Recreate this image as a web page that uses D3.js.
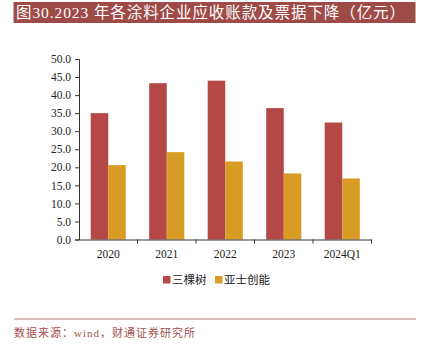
<!DOCTYPE html>
<html>
<head>
<meta charset="utf-8">
<script src="https://cdn.jsdelivr.net/npm/d3@7"></script>
<style>
  body { margin: 0; background: #fff; }
  svg { display: block; }
</style>
</head>
<body>
<script>
// Données
const categories = ['2020', '2021', '2022', '2023', '2024Q1'];
const series = ['三棵树', '亚士创能'];
const sankeshu = [35.0, 43.3, 44.0, 36.4, 32.4];
const yashi = [20.6, 24.2, 21.6, 18.3, 16.9];
const yTicks = [0, 5, 10, 15, 20, 25, 30, 35, 40, 45, 50];
const colors = ['#B44846', '#D89C24'];

const W = 424, H = 351;
const svg = d3.select('body').append('svg')
    .attr('width', W)
    .attr('height', H);

// Titre
svg.append('rect')
    .attr('x', 13.5).attr('y', 2)
    .attr('width', 402).attr('height', 21)
    .attr('fill', '#9E4B48');
svg.append('text')
    .attr('x', 16).attr('y', 18)
    .attr('fill', '#fff')
    .attr('font-family', '"Liberation Serif", "Noto Sans CJK SC", serif')
    .attr('font-size', 15.5)
    .attr('textLength', 389)
    .attr('lengthAdjust', 'spacing')
    .text('图30.2023 年各涂料企业应收账款及票据下降（亿元）');

const margin = { left: 79, top: 59, right: 424 - 371.5, bottom: 351 - 239.5 };
const width = W - margin.left - margin.right,
    height = H - margin.top - margin.bottom;

const g = svg.append('g')
    .attr('transform', `translate(${margin.left}, ${margin.top})`);

const x = d3.scaleBand()
    .domain(categories)
    .range([0, width])
    .paddingInner(0.4)
    .paddingOuter(0.2);

const x1 = d3.scaleBand()
    .domain(series)
    .range([0, x.bandwidth()]);

const y = d3.scaleLinear()
    .domain([0, 50])
    .range([height, 0]);

// Barres
const data = categories.map((c, i) => ({ cat: c, values: [sankeshu[i], yashi[i]] }));
g.append('g')
    .selectAll('g')
    .data(data)
    .join('g')
    .attr('transform', d => `translate(${x(d.cat)}, 0)`)
    .selectAll('rect')
    .data(d => d.values.map((v, j) => ({ s: series[j], v, j })))
    .join('rect')
    .attr('x', d => x1(d.s))
    .attr('y', d => y(d.v))
    .attr('width', x1.bandwidth())
    .attr('height', d => height - y(d.v))
    .attr('fill', d => colors[d.j]);

// Axe Y
const yAxis = g.append('g')
    .call(d3.axisLeft(y).tickValues(yTicks).tickSize(4).tickFormat(d3.format('.1f')));
yAxis.selectAll('text')
    .attr('font-family', '"Liberation Serif", serif')
    .attr('font-size', 11.5)
    .attr('fill', '#222')
    .attr('x', -8);

// Axe X
const xAxis = g.append('g')
    .attr('transform', `translate(0, ${height})`)
    .call(d3.axisBottom(x).tickSize(0).tickPadding(10));
xAxis.selectAll('text')
    .attr('font-family', '"Liberation Serif", serif')
    .attr('font-size', 11.5)
    .attr('fill', '#222');

// Petites graduations entre les catégories
const step = width / categories.length;
xAxis.selectAll('.sep')
    .data(d3.range(1, categories.length + 1))
    .join('line')
    .attr('class', 'sep')
    .attr('x1', d => d * step).attr('x2', d => d * step)
    .attr('y1', 0).attr('y2', 4)
    .attr('stroke', '#333');

svg.selectAll('.domain, .tick line')
    .attr('stroke', '#333');

// Légende
const legend = svg.append('g')
    .attr('transform', 'translate(163, 276)');
const offsets = [0, 52];
series.forEach((s, i) => {
    const lg = legend.append('g').attr('transform', `translate(${offsets[i]}, 0)`);
    lg.append('rect')
        .attr('width', 7.5).attr('height', 7.5)
        .attr('fill', colors[i]);
    lg.append('text')
        .attr('x', 9).attr('y', 8)
        .attr('font-family', '"Noto Sans CJK SC", sans-serif')
        .attr('font-size', 11.5)
        .attr('fill', '#222')
        .text(s);
});

// Source
svg.append('line')
    .attr('x1', 14).attr('x2', 416)
    .attr('y1', 319).attr('y2', 319)
    .attr('stroke', '#D4A9A8')
    .attr('stroke-width', 1.5);
svg.append('text')
    .attr('x', 14).attr('y', 337)
    .attr('fill', '#A4514E')
    .attr('font-family', '"Liberation Serif", "Noto Sans CJK SC", serif')
    .attr('font-size', 11)
    .attr('textLength', 181)
    .attr('lengthAdjust', 'spacing')
    .text('数据来源：wind，财通证券研究所');
</script>
</body>
</html>
